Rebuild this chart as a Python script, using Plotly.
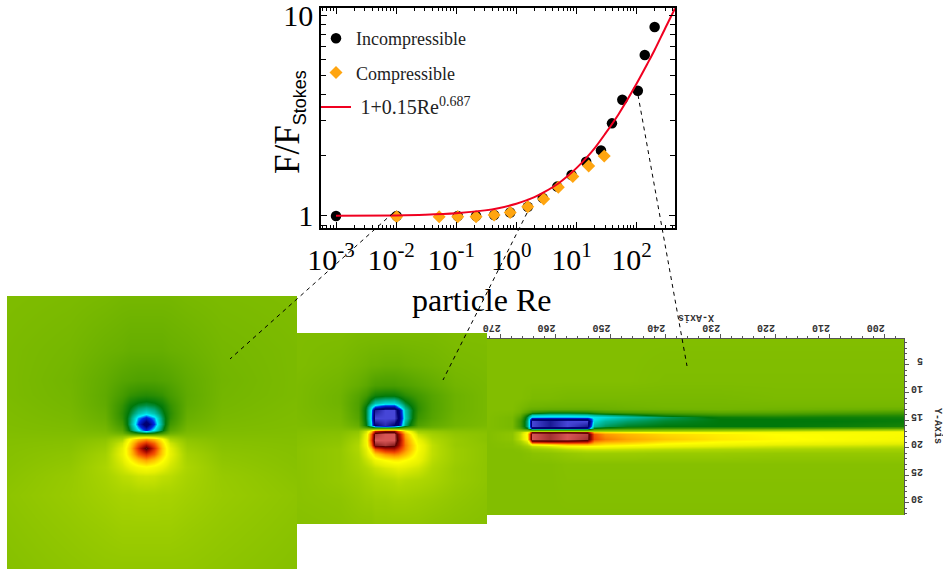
import plotly.graph_objects as go

W, H = 943, 573

# ---------- drag-law chart ----------
incomp_re = [0.001, 0.0102, 0.106, 0.214, 0.427, 0.79, 1.55, 2.75, 4.8, 8.3, 14.5, 25.6, 39, 58, 105, 137, 200]
incomp_f = [1.0, 1.0, 1.0, 1.0, 1.01, 1.04, 1.11, 1.23, 1.40, 1.60, 1.86, 2.12, 2.89, 3.79, 4.2, 6.32, 8.71]
comp_re = [0.0102, 0.052, 0.106, 0.214, 0.427, 0.79, 1.55, 2.85, 5.0, 8.7, 16, 29]
comp_f = [0.99, 0.99, 0.99, 0.99, 1.01, 1.04, 1.11, 1.215, 1.39, 1.57, 1.77, 1.99]
fit_re = [0.001, 0.01, 0.03, 0.1, 0.3, 0.5, 1, 1.5, 2, 3, 5, 7, 10, 15, 20, 30, 50, 70, 100, 150, 200, 300, 436]
fit_f = [1.001, 1.006, 1.0135, 1.031, 1.066, 1.093, 1.15, 1.198, 1.24, 1.32, 1.45, 1.571, 1.73, 1.964, 2.17, 2.56, 3.2, 3.78, 4.55, 5.69, 6.7, 8.6, 10.77]
x_ticks = [0.001, 0.01, 0.1, 1, 10, 100]
x_labels = ["10<sup>-3</sup>", "10<sup>-2</sup>", "10<sup>-1</sup>", "10<sup>0</sup>", "10<sup>1</sup>", "10<sup>2</sup>"]
y_ticks = [1, 10]
y_labels = ["1", "10"]
x_minor = [m * 10.0 ** e for e in range(-4, 3) for m in (2, 3, 4, 5, 6, 7, 8, 9)]
y_minor = [0.9, 2, 3, 4, 5, 6, 7, 8, 9]

# ---------- vorticity fields ----------
p1_x = [7, 70, 105, 122, 130, 138, 146, 154, 162, 170, 187, 222, 297]
p1_y = [296, 350, 380, 395, 405, 413, 418, 424, 430, 433, 436, 439, 443, 448, 454, 460, 467, 476, 495, 530, 569]
p1_z = [
    [-.01, -.02, -.03, -.04, -.04, -.04, -.04, -.04, -.04, -.04, -.03, -.02, -.01],
    [-.02, -.04, -.07, -.08, -.09, -.09, -.09, -.09, -.09, -.08, -.07, -.04, -.02],
    [-.02, -.05, -.10, -.14, -.15, -.16, -.16, -.16, -.15, -.14, -.10, -.05, -.02],
    [-.02, -.045, -.11, -.19, -.24, -.26, -.27, -.26, -.24, -.19, -.11, -.045, -.02],
    [-.015, -.04, -.105, -.24, -.33, -.38, -.40, -.38, -.33, -.24, -.105, -.04, -.015],
    [-.012, -.033, -.09, -.26, -.38, -.50, -.56, -.50, -.38, -.26, -.09, -.033, -.012],
    [-.01, -.028, -.08, -.25, -.42, -.64, -.74, -.64, -.42, -.25, -.08, -.028, -.01],
    [-.008, -.02, -.06, -.21, -.44, -.70, -.92, -.70, -.44, -.21, -.06, -.02, -.008],
    [-.005, -.012, -.035, -.14, -.38, -.58, -.72, -.58, -.38, -.14, -.035, -.012, -.005],
    [-.002, -.006, -.015, -.07, -.20, -.30, -.36, -.30, -.20, -.07, -.015, -.006, -.002],
    [0, 0, .005, .03, .08, .12, .14, .12, .08, .03, .005, 0, 0],
    [.003, .006, .03, .11, .30, .42, .48, .42, .30, .11, .03, .006, .003],
    [.005, .013, .05, .18, .36, .55, .66, .55, .36, .18, .05, .013, .005],
    [.008, .02, .07, .22, .40, .66, .90, .66, .40, .22, .07, .02, .008],
    [.01, .03, .09, .23, .38, .56, .66, .56, .38, .23, .09, .03, .01],
    [.012, .036, .10, .21, .31, .40, .46, .40, .31, .21, .10, .036, .012],
    [.015, .045, .11, .18, .23, .27, .29, .27, .23, .18, .11, .045, .015],
    [.02, .055, .10, .14, .15, .17, .175, .17, .15, .14, .10, .055, .02],
    [.03, .06, .085, .10, .10, .105, .105, .105, .10, .10, .085, .06, .03],
    [.02, .045, .06, .07, .07, .07, .07, .07, .07, .07, .06, .045, .02],
    [.01, .03, .04, .04, .04, .04, .04, .04, .04, .04, .04, .03, .01],
]

p2_x = [297, 340, 358, 366, 371, 375, 385, 394, 398, 405, 418, 432, 455, 487]
p2_y = [333, 365, 385, 395, 403, 407, 410, 418, 425, 427, 429, 431, 434, 440, 445, 449, 454, 460, 468, 480, 500, 524]
p2_z = [
    [-.01, -.01, -.02, -.02, -.02, -.02, -.02, -.02, -.02, -.02, -.02, -.02, -.01, -.01],
    [-.01, -.03, -.05, -.06, -.07, -.07, -.08, -.08, -.08, -.07, -.06, -.05, -.03, -.02],
    [-.02, -.05, -.09, -.12, -.15, -.17, -.18, -.18, -.17, -.16, -.13, -.10, -.05, -.03],
    [-.02, -.06, -.14, -.20, -.27, -.31, -.33, -.33, -.31, -.26, -.20, -.14, -.07, -.03],
    [-.02, -.06, -.16, -.30, -.42, -.50, -.55, -.55, -.50, -.38, -.24, -.15, -.07, -.03],
    [-.02, -.055, -.16, -.36, -.55, -.70, -.80, -.80, -.66, -.45, -.25, -.15, -.07, -.03],
    [-.018, -.05, -.16, -.38, -.60, -.95, -1, -1, -.88, -.50, -.25, -.15, -.07, -.03],
    [-.014, -.04, -.14, -.38, -.62, -1, -1, -1, -.92, -.52, -.22, -.14, -.06, -.03],
    [-.01, -.025, -.09, -.35, -.58, -.92, -.97, -.92, -.84, -.45, -.16, -.10, -.05, -.02],
    [-.006, -.015, -.06, -.20, -.30, -.42, -.45, -.42, -.35, -.22, -.10, -.07, -.03, -.01],
    [-.002, -.005, -.02, .02, .05, .08, .10, .10, .08, .05, 0, -.01, -.005, 0],
    [.002, .005, .03, .18, .38, .70, .82, .82, .60, .34, .08, .05, .02, .01],
    [.006, .015, .06, .24, .55, .96, 1, 1, .80, .45, .16, .09, .04, .02],
    [.012, .03, .10, .26, .60, 1, 1, 1, .84, .50, .24, .13, .06, .02],
    [.016, .04, .12, .25, .52, .92, .96, .92, .78, .52, .28, .15, .06, .03],
    [.02, .05, .12, .22, .38, .58, .70, .72, .65, .50, .28, .15, .07, .03],
    [.02, .05, .11, .20, .28, .38, .48, .52, .50, .42, .26, .15, .07, .03],
    [.02, .05, .10, .16, .20, .25, .30, .33, .33, .30, .24, .14, .07, .03],
    [.02, .05, .09, .12, .14, .16, .19, .21, .22, .21, .18, .12, .06, .03],
    [.02, .05, .07, .09, .10, .11, .12, .13, .14, .13, .12, .10, .06, .03],
    [.02, .03, .05, .06, .06, .07, .07, .08, .08, .08, .07, .06, .04, .02],
    [.01, .02, .03, .03, .03, .04, .04, .04, .04, .04, .04, .03, .02, .01],
]

p3_x = [272.5, 268, 266.5, 265.3, 264.9, 264.3, 261, 258, 254.3, 253, 251, 247, 240, 230, 220, 210, 196.5]
p3_y = [0.3, 8, 11, 12.5, 13, 13.5, 14, 14.4, 14.8, 15.2, 16, 16.4, 16.6, 16.9, 17.2, 17.6, 18.4, 18.8, 19.3, 19.7, 20.2, 21, 23, 32.2]
p3_z = [
    [0, 0, 0, 0, 0, 0, 0, 0, 0, 0, 0, 0, 0, 0, 0, 0, 0],
    [0, 0, 0, 0, 0, 0, 0, 0, 0, 0, 0, 0, -.01, -.01, -.01, -.01, -.01],
    [0, 0, 0, -.01, -.01, -.02, -.02, -.03, -.03, -.03, -.03, -.03, -.03, -.03, -.02, -.02, -.02],
    [0, 0, -.02, -.04, -.05, -.05, -.06, -.06, -.06, -.06, -.06, -.05, -.04, -.04, -.04, -.04, -.04],
    [0, 0, -.03, -.07, -.08, -.09, -.10, -.10, -.10, -.09, -.08, -.07, -.06, -.05, -.06, -.07, -.08],
    [0, -.01, -.05, -.14, -.17, -.24, -.30, -.30, -.28, -.24, -.20, -.17, -.14, -.12, -.13, -.15, -.18],
    [0, -.02, -.10, -.32, -.40, -.52, -.54, -.54, -.52, -.48, -.45, -.40, -.30, -.24, -.24, -.26, -.27],
    [0, -.03, -.14, -.40, -.50, -.62, -.63, -.63, -.62, -.58, -.56, -.50, -.42, -.33, -.31, -.32, -.31],
    [0, -.03, -.18, -.42, -.58, -.86, -.88, -.86, -.85, -.58, -.52, -.46, -.40, -.35, -.35, -.34, -.33],
    [0, -.03, -.20, -.44, -.60, -1, -.95, -1, -1, -.55, -.48, -.43, -.38, -.35, -.35, -.35, -.33],
    [0, -.03, -.20, -.44, -.60, -1, -.95, -1, -.95, -.48, -.42, -.37, -.35, -.35, -.35, -.33, -.30],
    [0, -.02, -.15, -.36, -.52, -.86, -.88, -.86, -.82, -.36, -.30, -.25, -.22, -.20, -.18, -.15, -.12],
    [0, -.01, -.08, -.20, -.28, -.45, -.45, -.45, -.42, -.20, -.16, -.12, -.09, -.06, -.03, 0, .03],
    [0, .01, .05, .10, .12, .12, .12, .12, .12, .10, .10, .10, .12, .14, .17, .20, .22],
    [0, .02, .12, .28, .40, .85, .85, .85, .80, .42, .36, .32, .28, .27, .26, .27, .28],
    [0, .03, .15, .32, .55, 1, .95, 1, .97, .58, .48, .43, .37, .33, .30, .29, .28],
    [0, .03, .15, .30, .55, 1, .95, 1, .95, .60, .52, .46, .40, .34, .31, .29, .27],
    [0, .02, .10, .22, .38, .82, .86, .84, .80, .52, .47, .43, .36, .31, .29, .27, .25],
    [0, .01, .06, .14, .19, .34, .40, .46, .46, .40, .36, .34, .29, .26, .24, .22, .20],
    [0, .01, .03, .08, .10, .15, .20, .27, .30, .30, .29, .27, .24, .21, .18, .17, .15],
    [0, 0, .01, .03, .04, .06, .09, .14, .17, .17, .17, .16, .14, .12, .11, .10, .09],
    [0, 0, 0, .01, .01, .02, .03, .05, .07, .07, .07, .07, .06, .06, .05, .05, .05],
    [0, 0, 0, 0, 0, 0, 0, .01, .01, .01, .01, .01, .01, .01, .01, .01, .01],
    [0, 0, 0, 0, 0, 0, 0, 0, 0, 0, 0, 0, 0, 0, 0, 0, 0],
]
p3_xticks = [270, 260, 250, 240, 230, 220, 210, 200]
p3_yticks = [5, 10, 15, 20, 25, 30]

field_levels = [
    (-1.00, "rgb(70,70,215)"), (-0.92, "rgb(0,0,110)"), (-0.84, "rgb(0,0,120)"), (-0.70, "rgb(0,40,225)"),
    (-0.60, "rgb(0,240,255)"), (-0.45, "rgb(0,170,130)"), (-0.35, "rgb(0,120,10)"),
    (-0.22, "rgb(60,150,0)"), (0.00, "rgb(130,190,0)"), (0.12, "rgb(175,215,0)"),
    (0.22, "rgb(230,240,0)"), (0.30, "rgb(255,255,0)"), (0.45, "rgb(255,170,0)"),
    (0.60, "rgb(240,70,0)"), (0.75, "rgb(170,10,0)"), (0.88, "rgb(90,0,0)"),
    (1.00, "rgb(215,85,85)"),
]
field_scale = [[(z + 1) / 2, c] for z, c in field_levels]

SERIF = "Liberation Serif"
MONO = "Liberation Mono"


def px_x(p):
    return p / W


def px_y(p):
    return 1 - p / H


fig = go.Figure()
for name, xs, ys, zs, xa, ya in [
    ("p1", p1_x, p1_y, p1_z, "x2", "y2"),
    ("p2", p2_x, p2_y, p2_z, "x3", "y3"),
    ("p3", p3_x, p3_y, p3_z, "x4", "y4"),
]:
    fig.add_trace(go.Heatmap(x=xs, y=ys, z=zs, zmin=-1, zmax=1, zsmooth="best", colorscale=field_scale,
                             showscale=False, xaxis=xa, yaxis=ya, name=name, showlegend=False))

fig.add_trace(go.Scatter(x=incomp_re, y=incomp_f, mode="markers", name="Incompressible", legendgroup="a",
                         marker=dict(symbol="circle", size=10.5, color="black")))
fig.add_trace(go.Scatter(x=comp_re, y=comp_f, mode="markers", name="Compressible", legendgroup="b",
                         marker=dict(symbol="diamond", size=10, color="#FFA510")))
fig.add_trace(go.Scatter(x=fit_re, y=fit_f, mode="lines",
                         name='\u00a0<span style="font-size:20px">1+0.15Re<sup>0.687</sup></span>', legendgroup="c",
                         line=dict(color="#F00020", width=2, shape="spline")))

hidden = dict(visible=False, showgrid=False, zeroline=False, automargin=False)
gray = "#555555"
mono_font = dict(family=MONO, size=10, color="#333333", weight=700)
fig.update_layout(
    width=W, height=H, margin=dict(l=0, r=0, t=0, b=0, autoexpand=False), paper_bgcolor="white", plot_bgcolor="white",
    legend=dict(x=316 / W, y=px_y(20), xanchor="left", yanchor="top", bgcolor="rgba(0,0,0,0)",
                font=dict(family=SERIF, size=18, color="#222222"), tracegroupgap=8, traceorder="grouped"),
    xaxis=dict(type="log", domain=[px_x(321), px_x(675)], range=[-3.25, 2.64], anchor="y", showgrid=False,
               automargin=False, zeroline=False, showline=True, linecolor="black", linewidth=1.5,
               mirror="allticks", ticks="inside", ticklen=6, tickcolor="black", tickvals=x_ticks, ticktext=x_labels,
               tickangle=0, tickfont=dict(family=SERIF, size=30, color="black"), ticklabelstandoff=4,
               ticklabelshift=-5,
               minor=dict(tickvals=x_minor, ticks="inside", ticklen=3, tickcolor="black")),
    yaxis=dict(type="log", domain=[px_y(228), px_y(8)], range=[-0.06, 1.035], anchor="x", showgrid=False,
               automargin=False, zeroline=False, showline=True, linecolor="black", linewidth=1.5,
               mirror="allticks", ticks="inside", ticklen=6, tickcolor="black", tickvals=y_ticks, ticktext=y_labels,
               tickfont=dict(family=SERIF, size=30, color="black"), ticklabeloverflow="allow",
               minor=dict(tickvals=y_minor, ticks="inside", ticklen=5, tickcolor="black")),
    xaxis2=dict(domain=[px_x(7), px_x(297)], range=[7, 297], anchor="y2", **hidden),
    yaxis2=dict(domain=[px_y(569), px_y(296)], range=[569, 296], anchor="x2", **hidden),
    xaxis3=dict(domain=[px_x(297), px_x(487)], range=[297, 487], anchor="y3", **hidden),
    yaxis3=dict(domain=[px_y(524), px_y(333)], range=[524, 333], anchor="x3", **hidden),
    xaxis4=dict(domain=[px_x(487), px_x(904)], range=[272.5, 196.5], anchor="y4", side="top", showgrid=False,
                automargin=False, zeroline=False, showline=True, linecolor=gray, linewidth=1, ticks="outside",
                ticklen=4, tickcolor=gray, tickvals=p3_xticks, tickangle=180, ticklabelstandoff=-5,
                tickfont=mono_font,
                minor=dict(dtick=2, ticks="outside", ticklen=2, tickcolor=gray)),
    yaxis4=dict(domain=[px_y(515), px_y(339)], range=[32.2, 0.3], anchor="x4", side="right", showgrid=False,
                automargin=False, zeroline=False, showline=True, linecolor=gray, linewidth=1, ticks="outside",
                ticklen=4, tickcolor=gray, tickvals=p3_yticks, tickangle=180, ticklabelstandoff=12,
                tickfont=mono_font,
                minor=dict(dtick=1, ticks="outside", ticklen=2, tickcolor=gray)),
    annotations=[
        dict(text="particle Re", x=px_x(482), y=px_y(300), xref="paper", yref="paper", showarrow=False,
             xanchor="center", yanchor="middle", font=dict(family=SERIF, size=32, color="black")),
        dict(text='F/F<sub><span style="font-family:Liberation Sans;font-size:18px">Stokes</span></sub>',
             x=px_x(289), y=px_y(122), xref="paper", yref="paper", showarrow=False, textangle=-90,
             xanchor="center", yanchor="middle", font=dict(family=SERIF, size=35, color="black")),
        dict(text="X-Axis", x=px_x(696), y=px_y(318), xref="paper", yref="paper", showarrow=False, textangle=180,
             xanchor="center", yanchor="middle", font=mono_font),
        dict(text="Y-Axis", x=px_x(938), y=px_y(426), xref="paper", yref="paper", showarrow=False, textangle=90,
             xanchor="center", yanchor="middle", font=mono_font),
    ],
    shapes=[
        dict(type="line", xref="paper", yref="paper", x0=px_x(x0), y0=px_y(y0), x1=px_x(x1), y1=px_y(y1),
             line=dict(color="black", width=1, dash="4px,4px"), layer="above")
        for x0, y0, x1, y1 in [(393, 213, 230, 359), (527, 213, 443, 380), (638, 95, 687, 366)]
    ],
)
fig.write_html("out.html", post_script="document.body.style.margin='0';", config={"displayModeBar": False})
